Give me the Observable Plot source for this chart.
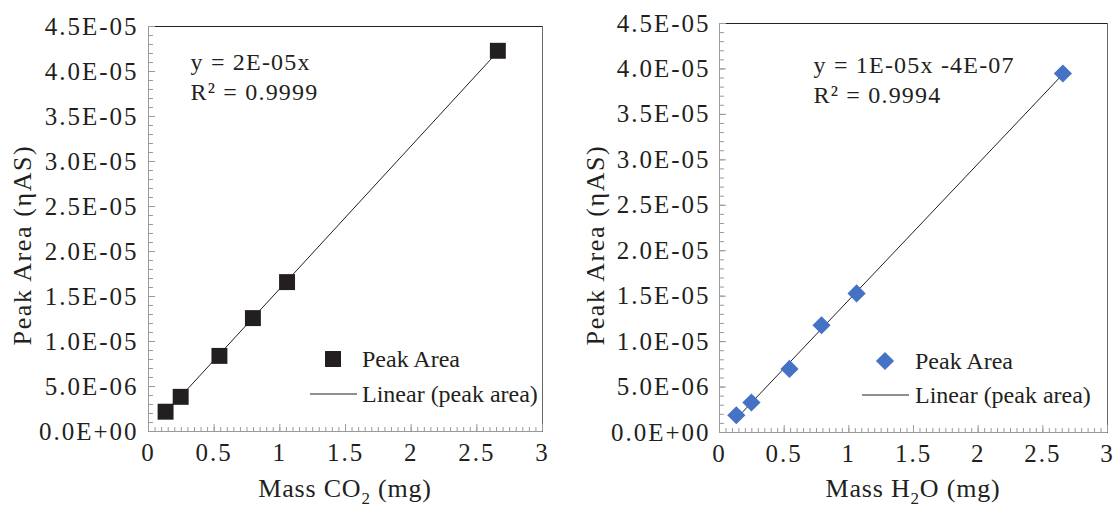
<!DOCTYPE html>
<html><head><meta charset="utf-8">
<script src="https://cdn.jsdelivr.net/npm/d3@7"></script>
<script src="https://cdn.jsdelivr.net/npm/@observablehq/plot@0.6"></script>
<style>
body{margin:0;background:#fff;}
#wrap{display:flex;width:1116px;height:507px;overflow:hidden;}
#wrap svg{display:block;}
</style></head><body><div id="wrap"></div>
<script>
// ---- data ----
const massCO2 = [0.13, 0.245, 0.54, 0.795, 1.055, 2.66];
const areaCO2 = [2.2e-6, 3.85e-6, 8.4e-6, 12.6e-6, 16.6e-6, 42.3e-6];
const massH2O = [0.13, 0.247, 0.541, 0.789, 1.06, 2.655];
const areaH2O = [1.9e-6, 3.3e-6, 7.0e-6, 11.8e-6, 15.3e-6, 39.5e-6];
const xTicks = [0, 0.5, 1, 1.5, 2, 2.5, 3];
const xTickLabels = ["0", "0.5", "1", "1.5", "2", "2.5", "3"];
const yTicks = [0, 5e-6, 1e-5, 1.5e-5, 2e-5, 2.5e-5, 3e-5, 3.5e-5, 4e-5, 4.5e-5];
const yTickLabels = ["0.0E+00","5.0E-06","1.0E-05","1.5E-05","2.0E-05","2.5E-05","3.0E-05","3.5E-05","4.0E-05","4.5E-05"];
const eqCO2 = ["y = 2E-05x", "R² = 0.9999"];
const eqH2O = ["y = 1E-05x -4E-07", "R² = 0.9994"];
const legendLabels = ["Peak Area", "Linear (peak area)"];

const INK = "#231f20";
const FONT = "'Liberation Serif', 'Times New Roman', serif";

function fitLine(xs, ys, throughOrigin) {
  let slope, icpt;
  if (throughOrigin) {
    slope = d3.sum(xs, (x, i) => x * ys[i]) / d3.sum(xs, x => x * x);
    icpt = 0;
  } else {
    const mx = d3.mean(xs), my = d3.mean(ys);
    slope = d3.sum(xs, (x, i) => (x - mx) * (ys[i] - my)) / d3.sum(xs, x => (x - mx) ** 2);
    icpt = my - slope * mx;
  }
  const ext = d3.extent(xs);
  return ext.map(x => ({x, y: icpt + slope * x}));
}

function panel(o) {
  const data = o.mass.map((x, i) => ({x, y: o.area[i]}));
  const fit = fitLine(o.mass, o.area, o.origin);
  const minorX = d3.range(0, 3.0001, 0.05).map(d => +d.toFixed(2));
  const minorY = d3.range(0, 45.5, 1).map(d => d * 1e-6);
  const plot = Plot.plot({
    width: 558, height: 507,
    marginLeft: o.m[0], marginRight: o.m[1], marginTop: o.m[2], marginBottom: o.m[3],
    style: {fontFamily: FONT, fontSize: "25px", color: INK, background: "white", overflow: "visible"},
    x: {domain: [0, 3], label: null},
    y: {domain: [0, 4.5e-5], label: null},
    marks: [
      Plot.frame({stroke: "#666"}),
      Plot.ruleY([4.5e-5], {stroke: "#222"}),
      Plot.ruleX([0], {stroke: "#9a9a9a"}),
      Plot.ruleY([0], {stroke: "#9a9a9a"}),
      Plot.axisX({ticks: minorX, tickSize: -4, fill: "none", stroke: "#9a9a9a", label: null}),
      Plot.axisX({ticks: xTicks, tickSize: -7, fill: "none", stroke: "#9a9a9a", label: null}),
      Plot.axisX({ticks: xTicks, tickSize: 0, tickPadding: 12, fontSize: 25,
        tickFormat: d => xTickLabels[xTicks.indexOf(d)], fill: INK, label: null}),
      Plot.axisY({ticks: minorY, tickSize: -5, fill: "none", stroke: "#9a9a9a", label: null}),
      Plot.axisY({ticks: yTicks, tickSize: -7, fill: "none", stroke: "#9a9a9a", label: null}),
      Plot.axisY({ticks: yTicks, tickSize: 0, tickPadding: o.yPad, fontSize: 25,
        tickFormat: d => yTickLabels[yTicks.findIndex(t => Math.abs(t - d) < 1e-9)], fill: INK, label: null}),
      Plot.line(fit, {x: "x", y: "y", stroke: INK, strokeWidth: 1}),
      Plot.dot(data, {x: "x", y: "y", symbol: o.symbol, r: o.r, fill: o.color, stroke: "none"}),
      Plot.text([o.eq[0]], {text: d => d, frameAnchor: "top-left", textAnchor: "start", lineAnchor: "bottom",
        dx: o.eqPos[0], dy: o.eqPos[1], fontSize: 24, fill: INK}),
      Plot.text([o.eq[1]], {text: d => d, frameAnchor: "top-left", textAnchor: "start", lineAnchor: "bottom",
        dx: o.eqPos[0], dy: o.eqPos[1] + 30, fontSize: 24, fill: INK})
    ]
  });
  const svg = d3.select(plot);
  svg.selectAll("g[aria-label$='tick label'] text").style("letter-spacing", "2px");
  svg.selectAll("g[aria-label='text'] text").style("letter-spacing", "1.2px");
  // y axis title
  svg.append("text")
    .attr("transform", `translate(${o.yTitleX},245) rotate(-90)`)
    .attr("text-anchor", "middle").attr("fill", INK)
    .style("font-family", FONT).style("font-size", "26px").style("letter-spacing", "1.6px")
    .text("Peak Area (ηAS)");
  // x axis title with subscript
  const cx = o.m[0] + (558 - o.m[0] - o.m[1]) / 2;
  const xt = svg.append("text").attr("x", cx).attr("y", 497)
    .attr("text-anchor", "middle").attr("fill", INK)
    .style("font-family", FONT).style("font-size", "26px").style("letter-spacing", "0.8px");
  xt.append("tspan").text(o.xTitle[0]);
  xt.append("tspan").attr("dy", 7).style("font-size", "17px").text(o.xTitle[1]);
  xt.append("tspan").attr("dy", -7).text(o.xTitle[2]);
  // legend
  const lg = svg.append("g").style("font-family", FONT).style("font-size", "24px")
    .attr("fill", INK).attr("text-anchor", "start");
  const sym = o.symbol === "square" ? d3.symbolSquare : d3.symbolDiamond2;
  const size = Math.PI * o.r * o.r;
  lg.append("path").attr("d", d3.symbol(sym, size)())
    .attr("transform", `translate(${o.leg.sx},${o.leg.sy})`).attr("fill", o.color);
  lg.append("text").attr("x", o.leg.tx).attr("y", o.leg.sy).attr("dy", "0.32em")
    .text(legendLabels[0]);
  lg.append("line").attr("x1", o.leg.l1).attr("x2", o.leg.l2).attr("y1", o.leg.ly).attr("y2", o.leg.ly)
    .attr("stroke", INK).attr("stroke-width", 1);
  lg.append("text").attr("x", o.leg.tx).attr("y", o.leg.ly).attr("dy", "0.32em")
    .text(legendLabels[1]);
  return plot;
}

const wrap = document.getElementById("wrap");
wrap.append(panel({
  mass: massCO2, area: areaCO2, origin: true, symbol: "square", r: 9, color: INK,
  m: [148, 16, 26, 76], yPad: 10, yTitleX: 31,
  eq: eqCO2, eqPos: [42, 43],
  xTitle: ["Mass CO", "2", " (mg)"],
  leg: {sx: 333, sy: 359, tx: 362, l1: 310, l2: 357, ly: 394}
}));
wrap.append(panel({
  mass: massH2O, area: areaH2O, origin: false, symbol: "diamond2", r: 8.2, color: "#4472c4",
  m: [161, 9, 23, 75], yPad: 9, yTitleX: 46,
  eq: eqH2O, eqPos: [94, 49],
  xTitle: ["Mass H", "2", "O (mg)"],
  leg: {sx: 885 - 558, sy: 361, tx: 915 - 558, l1: 862 - 558, l2: 909 - 558, ly: 395}
}));
</script></body></html>
